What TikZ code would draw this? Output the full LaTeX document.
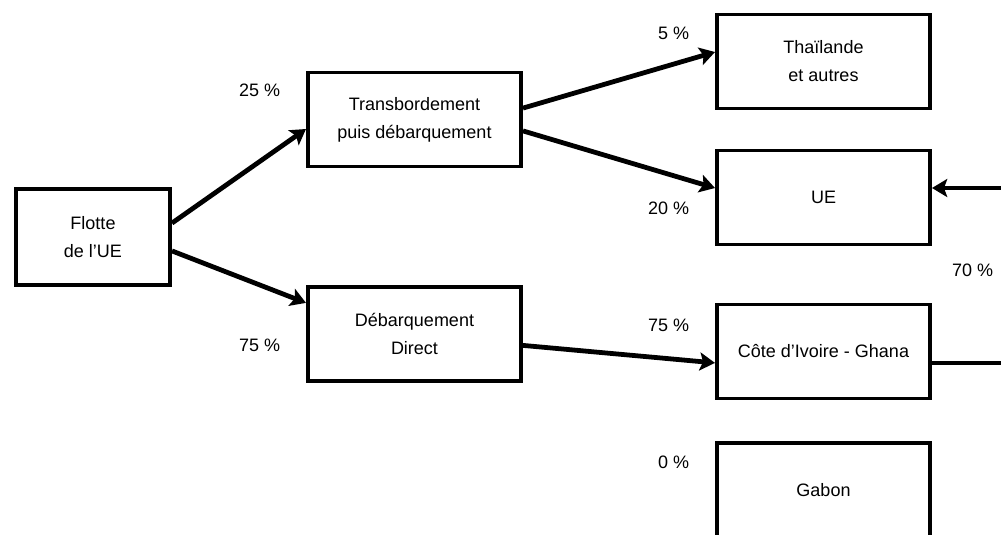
\documentclass[tikz,border=0pt]{standalone}
\usepackage{fontspec}
\setmainfont{Liberation Sans}
\usetikzlibrary{arrows.meta, positioning}

\begin{document}
\begin{tikzpicture}[x=0.025cm, y=-0.025cm,
	box/.style={draw, line width=2.8pt, minimum width=5.325cm, minimum height=2.35cm, align=center, font=\fontsize{12.8}{19.9}\selectfont},
	pct/.style={anchor=east, font=\fontsize{12.8}{15}\selectfont},
	flow/.style={line width=3.4pt, -{Stealth[length=0.38cm, width=0.45cm, inset=0.08cm]}}]
				
				\useasboundingbox (0,0) rectangle (1001,534);
				
				% boxes
				\node [box, minimum width=3.85cm, minimum height=2.4cm] (flotte) at (93,237) {Flotte\\de l’UE};
				\node [box] (trans) at (414.5,119.5) {Transbordement\\puis débarquement};
				\node [box] (direct) at (414.5,334) {Débarquement\\Direct};
				\node [box] (thai) at (823.5,61.5) {Thaïlande\\et autres};
				\node [box] (ue) at (823.5,197.5) {UE};
				\node [box] (cote) at (823.5,351.5) {Côte d’Ivoire - Ghana};
				\node [box] (gabon) at (823.5,490) {Gabon};
				
				% shares
				\node [pct] (p25) at (285,90) {25 \%};
				\node [pct] (p75) at (285,345) {75 \%};
				\node [pct] (p5) at (694,33) {5 \%};
				\node [pct] (p20) at (694,208) {20 \%};
				\node [pct] (p75b) at (694,325) {75 \%};
				\node [pct] (p0) at (694,462) {0 \%};
				\node [pct] (p70) at (998,270) {70 \%};
				
				\draw [flow] (flotte.10) -- (trans.185);
				\draw [flow] (flotte.-10) -- (direct.164);
				\draw [flow] (trans.6) -- (thai.175);
				\draw [flow] (trans.-6) -- (ue.175);
				\draw [flow] (direct.-6) -- (cote.186);
				
				\coordinate (bend) at (1020,270);
				\draw [flow] (cote.-6) -- (cote.-6 -| bend) |- (ue.5);
		\end{tikzpicture}
\end{document}
